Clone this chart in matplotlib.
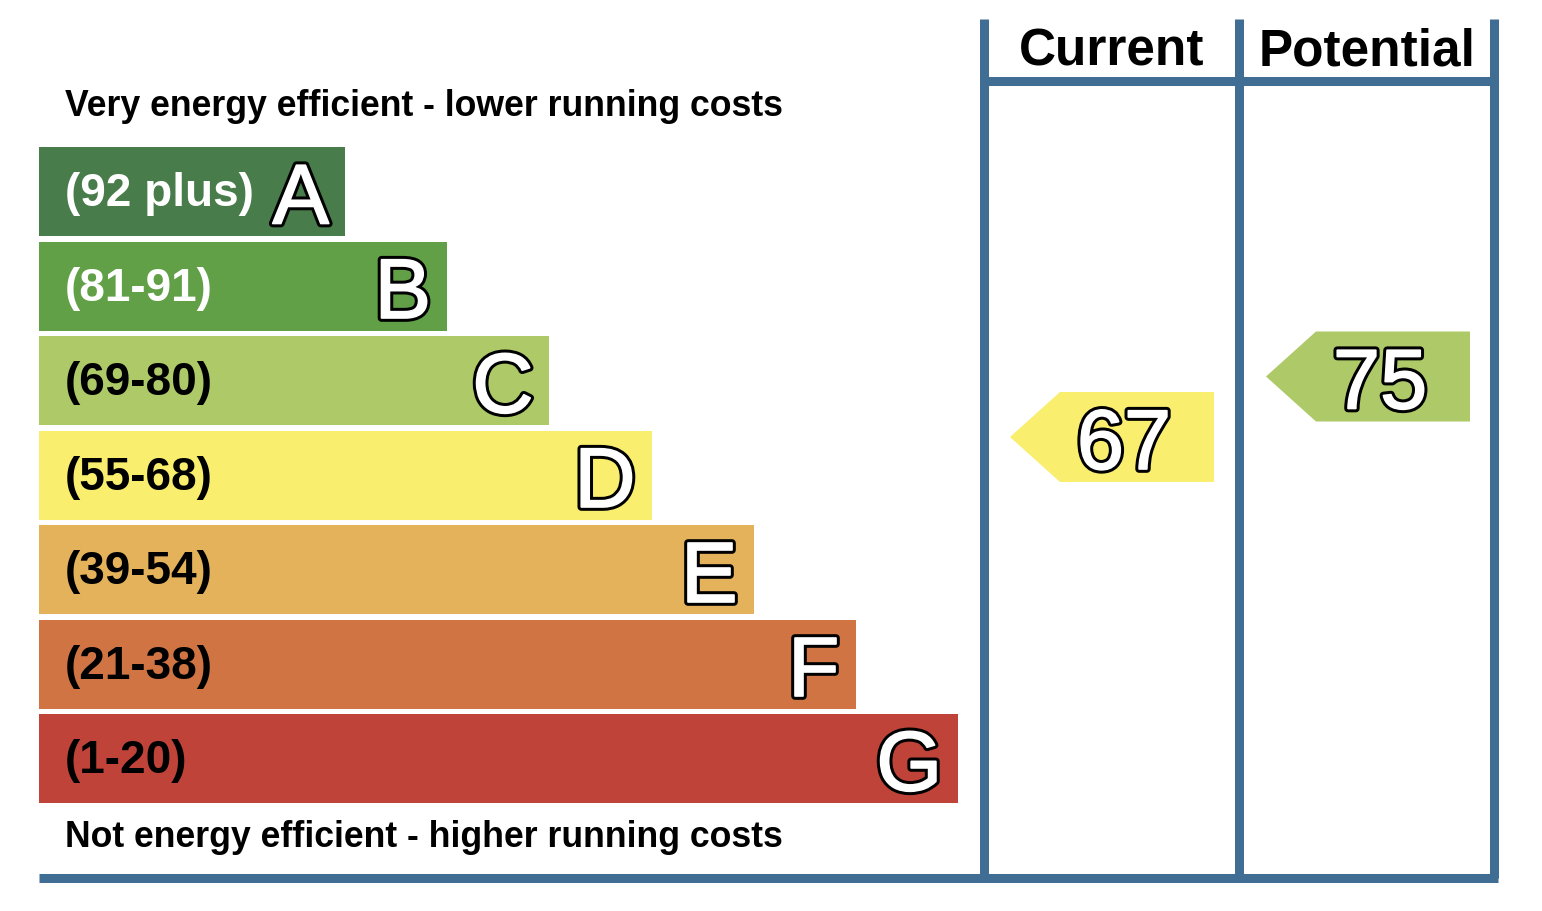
import matplotlib.pyplot as plt
import matplotlib.patheffects as pe
from matplotlib.patches import Polygon

plt.rcParams['font.family'] = ['Liberation Sans', 'DejaVu Sans']

# energy bands, best to worst
letters = ['A', 'B', 'C', 'D', 'E', 'F', 'G']
ranges = ['(92 plus)', '(81-91)', '(69-80)', '(55-68)', '(39-54)', '(21-38)', '(1-20)']
band_colors = ['#487c4b', '#62a048', '#adc968', '#faee6e', '#e4b25a', '#d07443', '#bf4339']
label_colors = ['white', 'white', 'black', 'black', 'black', 'black', 'black']

current = 67
potential = 75
current_color = '#faee6e'
potential_color = '#adc968'

frame_color = '#406d93'

fig = plt.figure(figsize=(15.42, 9.12), dpi=100)
ax = fig.add_axes([0, 0, 1, 1])
ax.set_xlim(0, 1542)
ax.set_ylim(912, 0)
ax.axis('off')

# black outline, then a thin white stroke to fatten the glyph a little
outline = [pe.Stroke(linewidth=5.5, foreground='black'),
           pe.Stroke(linewidth=1.2, foreground='white'),
           pe.Normal()]

# bands
x0 = 39
band_top = 148
band_step = 94.5
band_h = 89
for i, (let, rng, col, lc) in enumerate(zip(letters, ranges, band_colors, label_colors)):
    yc = band_top + i * band_step + band_h / 2
    width = 306 + i * 102.2
    ax.barh(yc, width, height=band_h, left=x0, color=col, linewidth=0)
    ax.text(x0 + 26, yc + 2, rng, fontsize=33, fontweight='bold', color=lc,
            ha='left', va='center')
    ax.text(x0 + width - 16, yc + 32, let, fontsize=61, color='white',
            ha='right', va='baseline', path_effects=outline)

ax.text(65, 116, 'Very energy efficient - lower running costs', fontsize=25.7,
        fontweight='bold', ha='left', va='baseline')
ax.text(65, 847, 'Not energy efficient - higher running costs', fontsize=25.7,
        fontweight='bold', ha='left', va='baseline')

# frame
lw = 6.5
for xv in [984, 1239, 1494]:
    ax.plot([xv, xv], [20, 879], color=frame_color, lw=lw, solid_capstyle='butt')
ax.plot([984, 1494], [82, 82], color=frame_color, lw=lw, solid_capstyle='butt')
ax.plot([39, 1498], [879, 879], color=frame_color, lw=lw, solid_capstyle='butt')

ax.text(1112, 65, 'Current', fontsize=37, fontweight='bold', ha='center', va='baseline')
ax.text(1367, 65, 'Potential', fontsize=37, fontweight='bold', ha='center', va='baseline')


def score_y(score):
    return 377.5 + (75 - score) * 7.5625


def arrow(col_left, score, color):
    yc = score_y(score)
    h = 90
    tip = col_left + 26
    right = col_left + 230
    pts = [(tip, yc), (tip + 50, yc - h / 2), (right, yc - h / 2),
           (right, yc + h / 2), (tip + 50, yc + h / 2)]
    ax.add_patch(Polygon(pts, closed=True, facecolor=color, edgecolor='none'))
    ax.text(right - 90, yc + 32, str(score), fontsize=61, color='white',
            ha='center', va='baseline', path_effects=outline)


arrow(984, current, current_color)
arrow(1240, potential, potential_color)

fig.savefig('out.png', dpi=100)
